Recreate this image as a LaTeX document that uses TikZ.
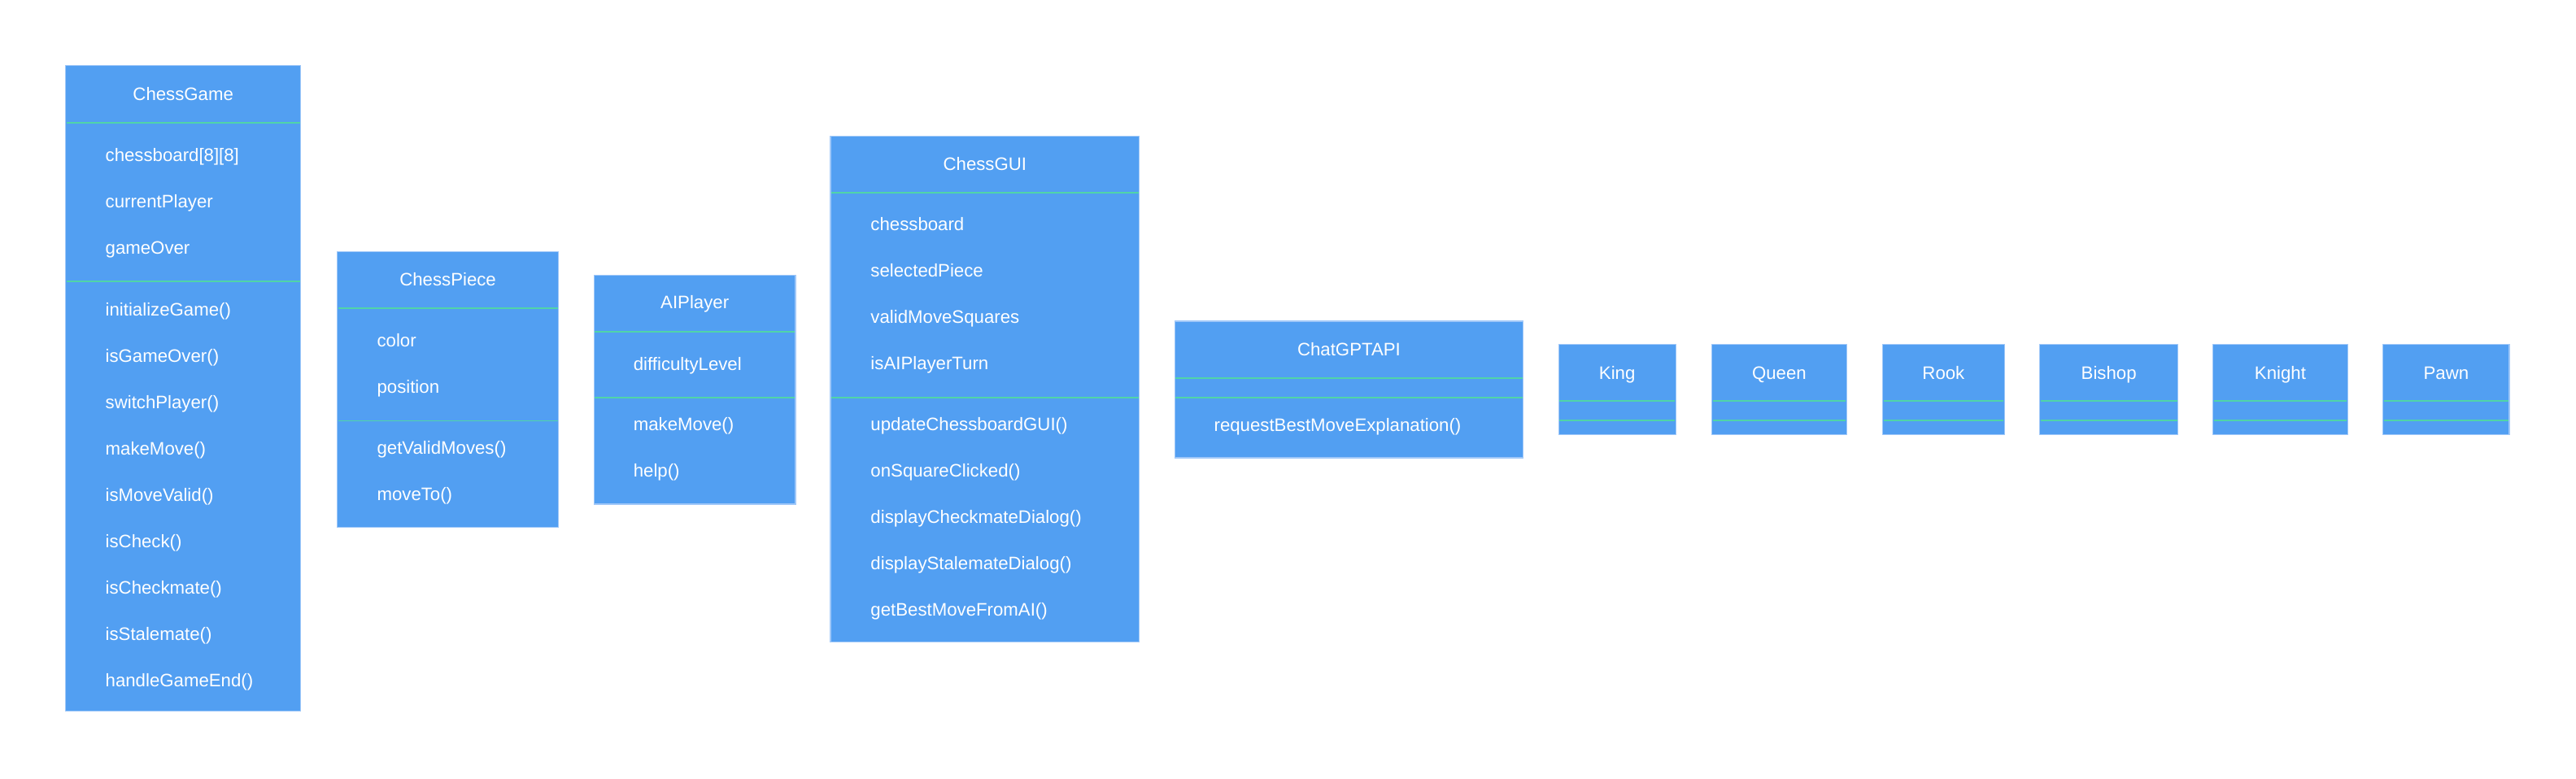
\documentclass[tikz,border=0pt]{standalone}
\usepackage{fontspec}
\setmainfont{Liberation Sans}
\definecolor{boxfill}{RGB}{82,159,242}
\definecolor{boxline}{RGB}{160,200,248}
\definecolor{sepline}{RGB}{80,212,168}
\tikzset{
  classbox/.style={draw=boxline, line width=0.6pt, fill=boxfill, rectangle, inner sep=0pt},
  sepl/.style={draw=sepline, line width=0.75pt},
  ttl/.style={anchor=base, text=white, inner sep=0pt, font=\fontsize{11}{13}\selectfont},
  attr/.style={anchor=base west, text=white, inner sep=0pt, font=\fontsize{11}{13}\selectfont}
}
\begin{document}
\begin{tikzpicture}[x=1pt,y=-1pt]
\useasboundingbox (0,0) rectangle (1568,474);
% ---------- ChessGame
\path[classbox] (40,40) rectangle (183,433);
\node[coordinate] (cgtl) at (40,40) {};
\draw[sepl] (40.5,74.8) -- (182.5,74.8);
\draw[sepl] (40.5,171.3) -- (182.5,171.3);
\node[ttl] (cgt) at (111.5,61) {ChessGame};
\node[attr] (cga1) at (64,98.2) {chessboard[8][8]};
\node[attr] (cga2) at (64,126.4) {currentPlayer};
\node[attr] (cga3) at (64,154.6) {gameOver};
\node[attr] (cgm1) at (64,192.3) {initializeGame()};
\node[attr] (cgm2) at (64,220.5) {isGameOver()};
\node[attr] (cgm3) at (64,248.7) {switchPlayer()};
\node[attr] (cgm4) at (64,276.9) {makeMove()};
\node[attr] (cgm5) at (64,305.1) {isMoveValid()};
\node[attr] (cgm6) at (64,333.3) {isCheck()};
\node[attr] (cgm7) at (64,361.5) {isCheckmate()};
\node[attr] (cgm8) at (64,389.7) {isStalemate()};
\node[attr] (cgm9) at (64,417.9) {handleGameEnd()};
% ---------- ChessPiece
\path[classbox] (205.3,153.3) rectangle (340,320.9);
\draw[sepl] (205.8,187.7) -- (339.5,187.7);
\draw[sepl] (205.8,256.3) -- (339.5,256.3);
\node[ttl] (cpt) at (272.6,174.1) {ChessPiece};
\node[attr] (cpa1) at (229.3,211.2) {color};
\node[attr] (cpa2) at (229.3,239.3) {position};
\node[attr] (cpm1) at (229.3,276.4) {getValidMoves()};
\node[attr] (cpm2) at (229.3,304.5) {moveTo()};
% ---------- AIPlayer
\path[classbox] (361.5,167.5) rectangle (484.2,307);
\draw[sepl] (362,202) -- (483.7,202);
\draw[sepl] (362,242.1) -- (483.7,242.1);
\node[ttl] (apt) at (422.9,188.1) {AIPlayer};
\node[attr] (apa1) at (385.4,225.3) {difficultyLevel};
\node[attr] (apm1) at (385.4,262.4) {makeMove()};
\node[attr] (apm2) at (385.4,290.5) {help()};
% ---------- ChessGUI
\path[classbox] (505.5,82.8) rectangle (693.5,391);
\draw[sepl] (506,117.3) -- (693,117.3);
\draw[sepl] (506,242.1) -- (693,242.1);
\node[ttl] (cgu) at (599.5,103.5) {ChessGUI};
\node[attr] (gua1) at (529.8,140.6) {chessboard};
\node[attr] (gua2) at (529.8,168.7) {selectedPiece};
\node[attr] (gua3) at (529.8,196.8) {validMoveSquares};
\node[attr] (gua4) at (529.8,224.9) {isAIPlayerTurn};
\node[attr] (gum1) at (529.8,262.1) {updateChessboardGUI()};
\node[attr] (gum2) at (529.8,290.3) {onSquareClicked()};
\node[attr] (gum3) at (529.8,318.5) {displayCheckmateDialog()};
\node[attr] (gum4) at (529.8,346.7) {displayStalemateDialog()};
\node[attr] (gum5) at (529.8,374.9) {getBestMoveFromAI()};
% ---------- ChatGPTAPI
\path[classbox] (715,195.6) rectangle (927.2,278.7);
\draw[sepl] (715.5,230.2) -- (926.7,230.2);
\draw[sepl] (715.5,242) -- (926.7,242);
\node[ttl] (gpt) at (821.1,216.5) {ChatGPTAPI};
\node[attr] (gpm1) at (738.8,262.7) {requestBestMoveExplanation()};
% ---------- pieces
\foreach \l/\r/\t/\n in {948.7/1020/King/king,1042/1124/Queen/queen,1146/1220/Rook/rook,1241.6/1325.7/Bishop/bishop,1347/1429/Knight/knight,1450.5/1527.4/Pawn/pawn}{
  \path[classbox] (\l,209.8) rectangle (\r,264.7);
  \draw[sepl] (\l+0.5,244) -- (\r-0.5,244);
  \draw[sepl] (\l+0.5,256) -- (\r-0.5,256);
  \node[ttl] (\n) at ({(\l+\r)/2},231) {\t};
}
\end{tikzpicture}
\end{document}
